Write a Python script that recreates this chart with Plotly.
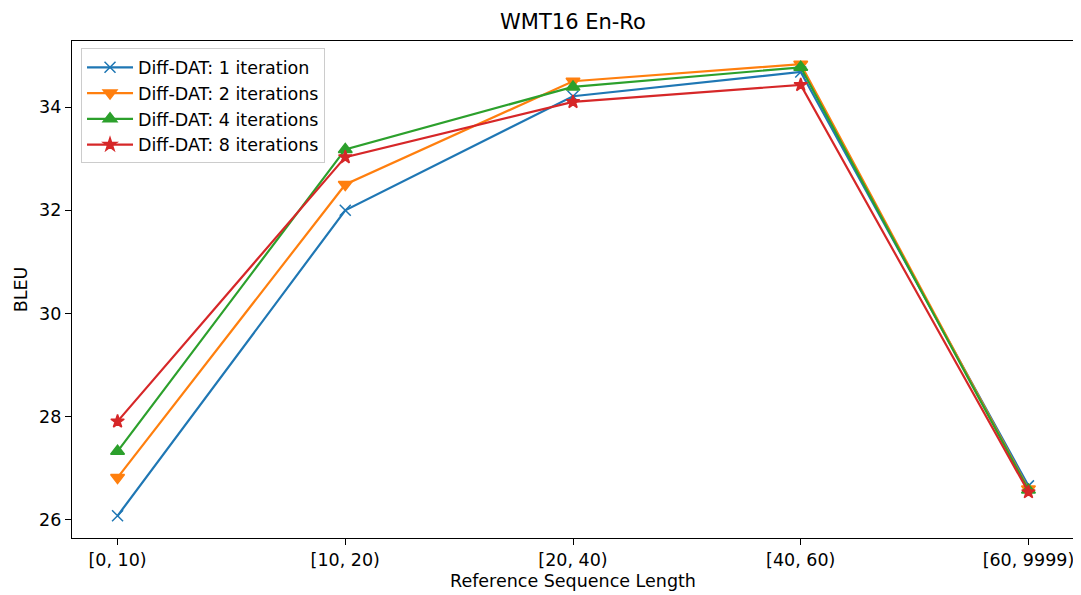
import plotly.graph_objects as go

categories = ["[0, 10)", "[10, 20)", "[20, 40)", "[40, 60)", "[60, 9999)"]
series_names = ["Diff-DAT: 1 iteration", "Diff-DAT: 2 iterations",
                "Diff-DAT: 4 iterations", "Diff-DAT: 8 iterations"]
bleu_1 = [26.08, 32.00, 34.21, 34.68, 26.66]
bleu_2 = [26.82, 32.50, 34.50, 34.83, 26.60]
bleu_4 = [27.33, 33.18, 34.39, 34.77, 26.58]
bleu_8 = [27.91, 33.03, 34.10, 34.43, 26.54]
y_ticks = [26, 28, 30, 32, 34]

colors = ["#1f77b4", "#ff7f0e", "#2ca02c", "#d62728"]
symbols = ["x-thin-open", "triangle-down", "triangle-up", "star"]
sizes = [11, 12, 12, 10]

fig = go.Figure()
xs = list(range(len(categories)))
for name, vals, c, s, sz in zip(series_names, [bleu_1, bleu_2, bleu_4, bleu_8], colors, symbols, sizes):
    fig.add_trace(go.Scatter(
        x=xs, y=vals, name=name, mode="lines+markers",
        line=dict(color=c, width=2.2),
        marker=dict(symbol=s, size=sz, color=c, line=dict(color=c, width=1.5)),
    ))

axis_common = dict(showline=True, linecolor="black", linewidth=1.2, mirror=True,
                   ticks="outside", ticklen=6, tickcolor="black", showgrid=False,
                   zeroline=False, tickfont=dict(size=17.5, color="black"))

fig.update_layout(
    width=1073, height=587,
    margin=dict(l=64, r=7, t=33, b=57),
    paper_bgcolor="white", plot_bgcolor="white",
    font=dict(family="DejaVu Sans", color="black"),
    title=dict(text="WMT16 En-Ro", x=0.5, xanchor="center", y=0.976, yanchor="middle",
               xref="paper", font=dict(size=21)),
    xaxis=dict(tickmode="array", tickvals=xs, ticktext=categories, range=[-0.2, 4.2],
               title=dict(text="Reference Sequence Length", font=dict(size=17.5), standoff=5),
               **axis_common),
    yaxis=dict(tickmode="array", tickvals=y_ticks, ticktext=[str(t) for t in y_ticks],
               range=[25.65, 35.28],
               title=dict(text="BLEU", font=dict(size=17.5), standoff=6),
               **axis_common),
    legend=dict(x=0.009, y=0.985, xanchor="left", yanchor="top",
                bgcolor="rgba(255,255,255,0.8)", bordercolor="#cccccc", borderwidth=1,
                font=dict(size=17.5), itemwidth=46, tracegroupgap=0),
)

fig.write_html("out.html")
